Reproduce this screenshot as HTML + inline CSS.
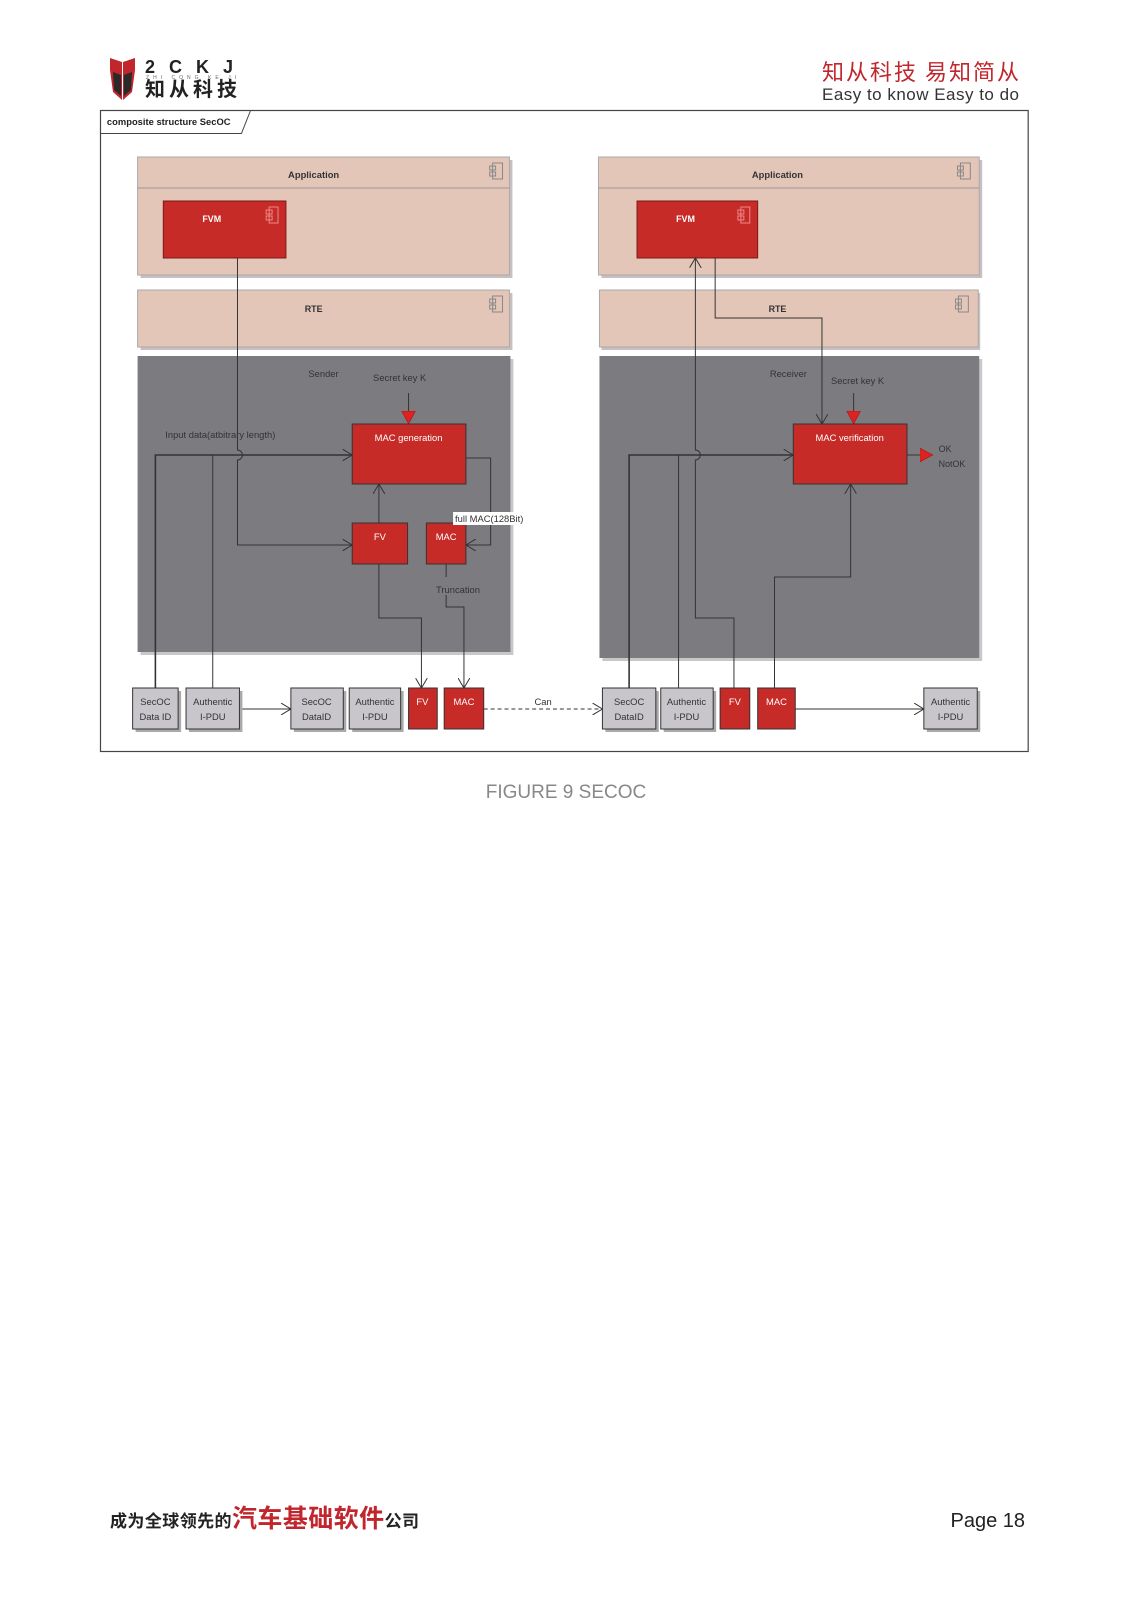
<!DOCTYPE html>
<html><head><meta charset="utf-8"><style>
html,body{margin:0;padding:0;background:#fff}
body{width:1131px;height:1600px;position:relative;overflow:hidden;font-family:"Liberation Sans","Noto Sans CJK SC",sans-serif}
</style></head><body>
<svg width="1131" height="1600" viewBox="0 0 1131 1600" xmlns="http://www.w3.org/2000/svg" style="position:absolute;left:0;top:0">
<defs>
<marker id="oa" markerWidth="12" markerHeight="12" refX="10" refY="6" orient="auto" markerUnits="userSpaceOnUse"><path d="M0,0 L10,6 L0,12" fill="none" stroke="#333" stroke-width="1"/></marker>
<marker id="ra" markerWidth="14" markerHeight="14" refX="13" refY="7" orient="auto" markerUnits="userSpaceOnUse"><path d="M0,0 L13,7 L0,14 Z" fill="#d22" stroke="#a00" stroke-width="0.5"/></marker>
</defs>
<!-- header logo -->
<g>
<path d="M110,58 L122,62 L122,100 L113,92 L110,70 Z" fill="#c0262c"/>
<path d="M135,58 L123,62 L123,100 L132,92 L135,70 Z" fill="#c0262c"/>
<path d="M113,72 L121,75 L121,96 L114,90 Z" fill="#2a2a2a"/>
<path d="M132,72 L124,75 L124,96 L131,90 Z" fill="#2a2a2a"/>
<text x="145" y="73" font-size="18" font-weight="bold" fill="#222" letter-spacing="4" textLength="92">2CKJ</text>
<text x="146" y="79" font-size="5" fill="#666" textLength="90">ZHI CONG KE JI</text>
<text x="145" y="96" font-size="20" font-weight="bold" fill="#222" font-family="Noto Sans CJK SC,sans-serif" textLength="92">知从科技</text>
</g>
<text x="822" y="80" font-size="22" fill="#c0262c" font-family="Noto Sans CJK SC,sans-serif" textLength="197">知从科技 易知简从</text>
<text x="822" y="100" font-size="17" fill="#333" textLength="197">Easy to know Easy to do</text>
<g transform="translate(100,0) scale(0.989,1) translate(-100,0)">
<!-- frame -->
<rect x="100.5" y="110.5" width="938" height="641" fill="#fff" stroke="#444" stroke-width="1.2"/>
<path d="M100.5,133.5 L243,133.5 L252,111" fill="none" stroke="#444" stroke-width="1"/>
<text x="107" y="125" font-size="9.5" font-weight="bold" fill="#222">composite structure SecOC</text>
<!-- Left application -->
<rect x="141" y="160" width="376" height="118" fill="#c8c0c0"/>
<rect x="138" y="157" width="376" height="118" fill="#e3c6b8" stroke="#aaa"/>
<line x1="138" y1="188" x2="514" y2="188" stroke="#999"/>
<text x="316" y="178" font-size="9.5" font-weight="bold" fill="#333" text-anchor="middle">Application</text>
<rect x="141" y="293" width="376" height="57" fill="#c8c0c0"/>
<rect x="138" y="290" width="376" height="57" fill="#e3c6b8" stroke="#aaa"/>
<text x="316" y="312" font-size="9" font-weight="bold" fill="#333" text-anchor="middle">RTE</text>
<!-- Right application -->
<rect x="607" y="160" width="385" height="118" fill="#c8c0c0"/>
<rect x="604" y="157" width="385" height="118" fill="#e3c6b8" stroke="#aaa"/>
<line x1="604" y1="188" x2="989" y2="188" stroke="#999"/>
<text x="785" y="178" font-size="9.5" font-weight="bold" fill="#333" text-anchor="middle">Application</text>
<rect x="607" y="293" width="383" height="57" fill="#c8c0c0"/>
<rect x="605" y="290" width="383" height="57" fill="#e3c6b8" stroke="#aaa"/>
<text x="785" y="312" font-size="9" font-weight="bold" fill="#333" text-anchor="middle">RTE</text>
<!-- component icons -->
<g fill="none" stroke="#888" stroke-width="1">
<rect x="497" y="163" width="10" height="16"/><rect x="494" y="166" width="6" height="4"/><rect x="494" y="172" width="6" height="4"/>
<rect x="497" y="296" width="10" height="16"/><rect x="494" y="299" width="6" height="4"/><rect x="494" y="305" width="6" height="4"/>
<rect x="970" y="163" width="10" height="16"/><rect x="967" y="166" width="6" height="4"/><rect x="967" y="172" width="6" height="4"/>
<rect x="968" y="296" width="10" height="16"/><rect x="965" y="299" width="6" height="4"/><rect x="965" y="305" width="6" height="4"/>
</g>
<!-- FVMs -->
<rect x="164" y="201" width="124" height="57" fill="#c62b28" stroke="#7a1a18"/>
<text x="213" y="222" font-size="9" font-weight="bold" fill="#fff" text-anchor="middle">FVM</text>
<rect x="643" y="201" width="122" height="57" fill="#c62b28" stroke="#7a1a18"/>
<text x="692" y="222" font-size="9" font-weight="bold" fill="#fff" text-anchor="middle">FVM</text>
<g fill="none" stroke="#e88" stroke-width="1">
<rect x="271" y="207" width="9" height="16"/><rect x="268" y="210" width="6" height="4"/><rect x="268" y="216" width="6" height="4"/>
<rect x="748" y="207" width="9" height="16"/><rect x="745" y="210" width="6" height="4"/><rect x="745" y="216" width="6" height="4"/>
</g>
<!-- gray boxes -->
<rect x="141" y="359" width="377" height="296" fill="#c8c8c8"/>
<rect x="138" y="356" width="377" height="296" fill="#7c7b80"/>
<rect x="608" y="359" width="384" height="302" fill="#c8c8c8"/>
<rect x="605" y="356" width="384" height="302" fill="#7c7b80"/>
<text x="326" y="377" font-size="9.5" fill="#333" text-anchor="middle">Sender</text>
<text x="403" y="381" font-size="9.5" fill="#333" text-anchor="middle">Secret key K</text>
<text x="796" y="377" font-size="9.5" fill="#333" text-anchor="middle">Receiver</text>
<text x="866" y="384" font-size="9.5" fill="#333" text-anchor="middle">Secret key K</text>
<text x="166" y="438" font-size="9.5" fill="#333">Input data(atbitrary length)</text>
<!-- red boxes -->
<rect x="355" y="424" width="115" height="60" fill="#c62b28" stroke="#333"/>
<text x="412" y="441" font-size="9.5" fill="#fff" text-anchor="middle">MAC generation</text>
<rect x="355" y="523" width="56" height="41" fill="#c62b28" stroke="#333"/>
<text x="383" y="540" font-size="9.5" fill="#fff" text-anchor="middle">FV</text>
<rect x="430" y="523" width="40" height="41" fill="#c62b28" stroke="#333"/>
<text x="450" y="540" font-size="9.5" fill="#fff" text-anchor="middle">MAC</text>
<rect x="801" y="424" width="115" height="60" fill="#c62b28" stroke="#333"/>
<text x="858" y="441" font-size="9.5" fill="#fff" text-anchor="middle">MAC verification</text>
<text x="948" y="452" font-size="9" fill="#333">OK</text>
<text x="948" y="467" font-size="9" fill="#333">NotOK</text>
<!-- connectors left -->
<g fill="none" stroke="#333" stroke-width="1">
<path d="M239,258 V450 a5,5 0 0 1 0,10 V545 H355" marker-end="url(#oa)"/>
<path d="M156,688 V455 H355" marker-end="url(#oa)" stroke-width="1.6"/>
<path d="M214,688 V455"/>
<path d="M470,458 H495 V545 H470" marker-end="url(#oa)"/>
<path d="M382,523 V484" marker-end="url(#oa)"/>
<path d="M382,564 V618 H425 V688" marker-end="url(#oa)"/>
<path d="M450,564 V577 M450,595 V607 H468 V688" marker-end="url(#oa)"/>
<path d="M412,393 V424" stroke="#333" marker-end="url(#ra)"/>
<path d="M243,709 H293" marker-end="url(#oa)"/>
<path d="M488,709 H608" stroke-dasharray="4,3" marker-end="url(#oa)"/>
</g>
<rect x="457" y="512" width="78" height="13" fill="#fff"/>
<text x="459" y="522" font-size="9.5" fill="#333">full MAC(128Bit)</text>
<text x="462" y="593" font-size="9.5" fill="#333" text-anchor="middle">Truncation</text>
<text x="548" y="705" font-size="9.5" fill="#333" text-anchor="middle">Can</text>
<!-- connectors right -->
<g fill="none" stroke="#333" stroke-width="1">
<path d="M635,688 V455 H801" marker-end="url(#oa)" stroke-width="1.6"/>
<path d="M685,688 V455"/>
<path d="M741,688 V618 H702 V460 a5,5 0 0 0 0,-10 V258" marker-end="url(#oa)"/>
<path d="M782,688 V577 H859 V484" marker-end="url(#oa)"/>
<path d="M722,258 V318 H830 V424" marker-end="url(#oa)"/>
<path d="M862,393 V424" marker-end="url(#ra)"/>
<path d="M916,455 H942" marker-end="url(#ra)"/>
<path d="M803,709 H933" marker-end="url(#oa)"/>
</g>
<!-- bottom boxes -->
<g stroke="#333" stroke-width="1">
<rect x="136" y="691" width="46" height="41" fill="#aaa" stroke="none"/>
<rect x="133" y="688" width="46" height="41" fill="#c8c6cb"/>
<rect x="190" y="691" width="54" height="41" fill="#aaa" stroke="none"/>
<rect x="187" y="688" width="54" height="41" fill="#c8c6cb"/>
<rect x="296" y="691" width="53" height="41" fill="#aaa" stroke="none"/>
<rect x="293" y="688" width="53" height="41" fill="#c8c6cb"/>
<rect x="355" y="691" width="52" height="41" fill="#aaa" stroke="none"/>
<rect x="352" y="688" width="52" height="41" fill="#c8c6cb"/>
<rect x="412" y="688" width="29" height="41" fill="#c62b28"/>
<rect x="448" y="688" width="40" height="41" fill="#c62b28"/>
<rect x="611" y="691" width="54" height="41" fill="#aaa" stroke="none"/>
<rect x="608" y="688" width="54" height="41" fill="#c8c6cb"/>
<rect x="670" y="691" width="53" height="41" fill="#aaa" stroke="none"/>
<rect x="667" y="688" width="53" height="41" fill="#c8c6cb"/>
<rect x="727" y="688" width="30" height="41" fill="#c62b28"/>
<rect x="765" y="688" width="38" height="41" fill="#c62b28"/>
<rect x="936" y="691" width="54" height="41" fill="#aaa" stroke="none"/>
<rect x="933" y="688" width="54" height="41" fill="#c8c6cb"/>
</g>
<g font-size="9.5" fill="#333" text-anchor="middle">
<text x="156" y="705">SecOC</text><text x="156" y="720">Data ID</text>
<text x="214" y="705">Authentic</text><text x="214" y="720">I-PDU</text>
<text x="319" y="705">SecOC</text><text x="319" y="720">DataID</text>
<text x="378" y="705">Authentic</text><text x="378" y="720">I-PDU</text>
<text x="426" y="705" fill="#fff">FV</text><text x="468" y="705" fill="#fff">MAC</text>
<text x="635" y="705">SecOC</text><text x="635" y="720">DataID</text>
<text x="693" y="705">Authentic</text><text x="693" y="720">I-PDU</text>
<text x="742" y="705" fill="#fff">FV</text><text x="784" y="705" fill="#fff">MAC</text>
<text x="960" y="705">Authentic</text><text x="960" y="720">I-PDU</text>
</g>
</g>
<text x="566" y="798" font-size="19" fill="#888" text-anchor="middle">FIGURE 9 SECOC</text>
<!-- footer -->
<text x="110" y="1527" font-family="Noto Sans CJK SC,sans-serif" font-weight="bold" fill="#222" textLength="309"><tspan font-size="17">成为全球领先的</tspan><tspan font-size="25" fill="#c0262c">汽车基础软件</tspan><tspan font-size="17">公司</tspan></text>
<text x="1025" y="1527" font-size="20" fill="#222" text-anchor="end">Page 18</text>
</svg>
</body></html>
